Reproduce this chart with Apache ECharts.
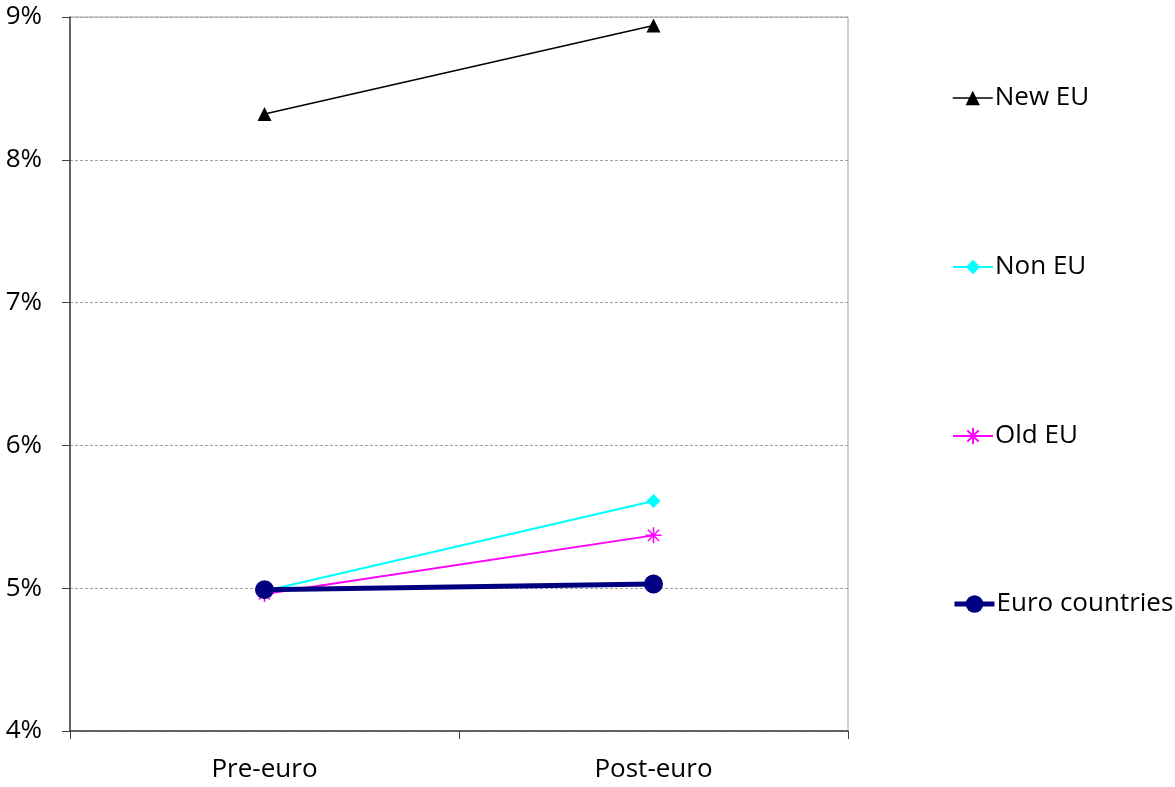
<!DOCTYPE html>
<html>
<head>
<meta charset="utf-8">
<script src="https://cdn.jsdelivr.net/npm/echarts@6/dist/echarts.min.js"></script>
<style>
  html, body { margin: 0; padding: 0; background: #fff; }
  #chart { width: 1175px; height: 787px; }
</style>
</head>
<body>
<div id="chart"></div>
<script>
// Periods on the x axis
const periods = ['Pre-euro', 'Post-euro'];

// Rates in percent for each country group
const newEU = [8.32, 8.94];
const nonEU = [4.98, 5.61];
const oldEU = [4.96, 5.37];
const euroCountries = [4.99, 5.03];

// Y axis range in percent
const yMin = 4;
const yMax = 9;
const yStep = 1;

const FONT = 'Open Sans';
const FONT_SIZE = 26;

// eight-armed asterisk marker drawn as strokes
const asteriskPath = 'path://M10,0L10,20M0,10L20,10M3,3L17,17M17,3L3,17';

const chart = echarts.init(document.getElementById('chart'));

function legendAt(item, top, h) {
  return {
    data: [item],
    left: 952,
    top: top,
    orient: 'vertical',
    itemWidth: 40,
    itemHeight: h,
    itemGap: 0,
    padding: 0,
    textStyle: { fontFamily: FONT, fontSize: FONT_SIZE, color: '#000', padding: [0, 0, 0, -3] }
  };
}

chart.setOption({
  animation: false,
  backgroundColor: '#fff',
  grid: {
    left: 70, right: 327, top: 17, bottom: 56,
    show: true, borderColor: '#a0a0a0', borderWidth: 1
  },
  legend: [
    legendAt({ name: 'New EU', lineStyle: { width: 1.5 } }, 85, 18),
    legendAt({ name: 'Non EU', lineStyle: { width: 2 } }, 254, 18),
    legendAt({ name: 'Old EU', lineStyle: { width: 2 } }, 423, 20),
    legendAt({ name: 'Euro countries', lineStyle: { width: 5 } }, 591, 22)
  ],
  xAxis: {
    type: 'category',
    data: periods,
    boundaryGap: true,
    axisLine: { lineStyle: { color: '#404040', width: 1.5 } },
    axisTick: { show: true, length: 8, inside: false, lineStyle: { color: '#404040' } },
    axisLabel: { fontFamily: FONT, fontSize: FONT_SIZE, color: '#000', margin: 26 },
    splitLine: { show: false }
  },
  yAxis: {
    type: 'value',
    min: yMin,
    max: yMax,
    interval: yStep,
    axisLine: { show: true, lineStyle: { color: '#404040', width: 1.5 } },
    axisTick: { show: true, length: 8, inside: false, lineStyle: { color: '#404040' } },
    axisLabel: { fontFamily: FONT, fontSize: FONT_SIZE, color: '#000', margin: 28, formatter: '{value}%' },
    splitLine: { show: true, lineStyle: { color: '#a0a0a0', type: [3, 2], width: 1 } }
  },
  series: [
    {
      name: 'New EU', type: 'line', data: newEU,
      symbol: 'triangle', symbolSize: 14,
      lineStyle: { color: '#000', width: 1.5 },
      itemStyle: { color: '#000' },
      z: 4
    },
    {
      name: 'Non EU', type: 'line', data: nonEU,
      symbol: 'diamond', symbolSize: 14,
      lineStyle: { color: '#00ffff', width: 2 },
      itemStyle: { color: '#00ffff' },
      z: 3
    },
    {
      name: 'Old EU', type: 'line', data: oldEU,
      symbol: asteriskPath, symbolSize: 16,
      lineStyle: { color: '#ff00ff', width: 2 },
      itemStyle: { color: 'none', borderColor: '#ff00ff', borderWidth: 1.5 },
      z: 3
    },
    {
      name: 'Euro countries', type: 'line', data: euroCountries,
      symbol: 'circle', symbolSize: 19,
      lineStyle: { color: '#000080', width: 5 },
      itemStyle: { color: '#000080' },
      z: 5
    }
  ]
});
</script>
</body>
</html>
